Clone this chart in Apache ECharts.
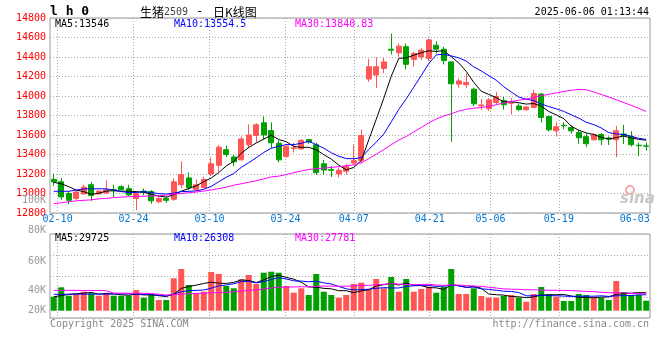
<!DOCTYPE html>
<html><head><meta charset="utf-8">
<script src="https://cdn.jsdelivr.net/npm/echarts@6/dist/echarts.min.js"></script>
<style>html,body{margin:0;padding:0;background:#fff}#c{width:660px;height:360px}</style>
</head><body><div id="c"></div>
<script>
const dates = ["02-07","02-10","02-11","02-12","02-13","02-14","02-17","02-18","02-19","02-20","02-21","02-24","02-25","02-26","02-27","02-28","03-03","03-04","03-05","03-06","03-07","03-10","03-11","03-12","03-13","03-14","03-17","03-18","03-19","03-20","03-21","03-24","03-25","03-26","03-27","03-28","03-31","04-01","04-02","04-03","04-07","04-08","04-09","04-10","04-11","04-14","04-15","04-16","04-17","04-18","04-21","04-22","04-23","04-24","04-25","04-28","04-29","04-30","05-06","05-07","05-08","05-09","05-12","05-13","05-14","05-15","05-16","05-19","05-20","05-21","05-22","05-23","05-26","05-27","05-28","05-29","05-30","06-03","06-04","06-05"];
const tickDates = ["02-10","02-24","03-10","03-24","04-07","04-21","05-06","05-19","06-03"];
const gridDates = ["02-10","02-24","03-10","03-24","04-07","04-21","05-06","05-19"];
const priceTicks = {min:12800, max:14800, step:200};

const opens = [13145,13120,13000,12950,12995,13090,12995,13005,13040,13070,
13050,12950,13025,13020,12915,12950,12940,13090,13160,13040,
13060,13200,13290,13450,13375,13345,13500,13595,13725,13645,
13515,13380,13460,13458,13552,13500,13305,13245,13200,13228,
13313,13340,14175,14215,14283,14480,14443,14505,14375,14400,
14385,14521,14480,14350,14122,14116,14070,13900,13870,13932,
13952,13926,13898,13860,13883,14020,13790,13643,13700,13677,
13626,13582,13551,13605,13569,13551,13610,13585,13495,13488];
const closes = [13120,12965,12930,13015,13065,12980,13025,13040,13030,13040,
12985,13000,13010,12925,12950,12930,13120,13195,13060,13090,
13145,13305,13475,13400,13325,13560,13600,13705,13600,13520,
13345,13485,13468,13545,13528,13215,13240,13238,13238,13280,
13337,13595,14300,14300,14350,14470,14511,14325,14437,14470,
14575,14480,14363,14125,14154,14138,13920,13908,13960,13995,
13910,13932,13860,13888,14026,13780,13653,13684,13695,13643,
13572,13510,13605,13551,13557,13643,13592,13500,13490,13485];
const lows = [13080,12935,12890,12930,12990,12925,12990,12995,12965,13030,
12975,12830,12980,12895,12900,12905,12925,13055,13035,13025,
13055,13180,13225,13375,13280,13340,13465,13525,13550,13465,
13320,13365,13420,13450,13510,13190,13195,13170,13165,13195,
13295,13310,14145,14080,14232,14426,14402,14273,14300,14368,
14358,14437,14324,13530,14085,14082,13895,13858,13847,13916,
13860,13810,13850,13847,13880,13728,13636,13585,13660,13613,
13510,13475,13545,13497,13497,13373,13507,13483,13381,13440];
const highs = [13205,13160,13025,13030,13090,13120,13030,13135,13090,13085,
13090,13020,13050,13035,12970,12965,13155,13330,13215,13145,
13170,13370,13500,13490,13400,13585,13710,13720,13790,13730,
13545,13500,13520,13560,13560,13520,13345,13280,13265,13305,
13500,13655,14380,14395,14392,14640,14539,14539,14453,14488,
14590,14562,14504,14355,14181,14232,14087,13970,13977,14041,
13990,13977,13920,13898,14062,14028,13796,13735,13732,13697,
13653,13615,13620,13618,13585,13694,13704,13640,13523,13523];

const ma5 = [13115,13100,13070,13035,13019,12991,13003,13025,13028,13023,
13024,13019,13013,12992,12974,12963,12987,13024,13051,13079,
13122,13159,13215,13283,13330,13413,13472,13518,13558,13597,
13554,13531,13484,13473,13474,13448,13399,13353,13292,13242,
13267,13338,13550,13762,13976,14203,14386,14391,14419,14443,
14464,14457,14465,14403,14339,14252,14140,14049,14016,13984,
13939,13941,13931,13917,13923,13897,13841,13806,13768,13691,
13649,13621,13605,13576,13559,13573,13590,13569,13556,13546];
const ma10 = [13023,13023,13023,13035,13048,13048,13048,13048,13035,13021,
13008,13011,13019,13010,12999,12994,13003,13019,13022,13027,
13043,13073,13120,13167,13205,13268,13316,13367,13421,13464,
13484,13502,13501,13515,13536,13501,13465,13418,13382,13358,
13357,13368,13452,13527,13609,13735,13862,13971,14091,14210,
14333,14422,14428,14411,14391,14358,14299,14257,14209,14162,
14095,14041,13990,13967,13954,13918,13891,13869,13842,13807,
13773,13731,13706,13672,13625,13611,13605,13587,13566,13554.5];
const ma30 = [12895,12905,12915,12925,12930,12935,12945,12950,12958,12963,
12966,12970,12972,12974,12976,12985,12995,13000,13008,13015,
13025,13036,13050,13065,13085,13100,13115,13130,13150,13170,
13178,13195,13213,13231,13246,13254,13261,13268,13275,13283,
13294,13314,13357,13403,13450,13501,13548,13585,13631,13677,
13725,13764,13794,13818,13845,13865,13875,13882,13894,13910,
13929,13944,13957,13968,13985,14004,14017,14032,14047,14059,
14067,14064,14041,14016,13990,13962,13932,13904,13873,13840.83];

const volumes = [23140,38680,24790,27110,31400,28760,24790,28760,24790,24790,
24790,34210,21490,25950,17690,17690,53550,68930,42480,28760,
31400,63970,60660,40830,37020,51900,59010,44130,62810,64460,
62810,40830,29750,37020,25950,60660,31400,25950,21490,25950,
44130,46280,35370,52400,37020,55700,31400,52400,31400,35870,
39670,29750,39670,68930,27600,27600,37020,24300,21490,21490,
24300,25950,21490,14880,27600,39170,27600,23140,16030,16030,
27600,25950,21490,21490,17690,49090,30910,25950,25950,16530];
const vma5 = [23000,25000,27000,28000,29024,30148,27370,28164,27700,26378,
25584,27468,26014,26246,24826,23406,27274,36762,40068,42282,
45024,47108,45454,45124,46776,50876,49884,46578,50974,56462,
58644,55008,52132,46974,39272,38842,36956,36196,33090,33090,
29784,32760,34644,40826,43040,45354,42378,45784,41584,41354,
38148,37818,35272,42778,41124,38710,40164,37090,27602,26380,
25720,23506,22944,21622,22844,25818,26148,26478,26708,24394,
22080,21750,21420,22512,22844,27142,28134,29026,29918,29725];
const vma10 = [27100,27100,27200,27300,27300,27400,27500,27600,27700,27701,
27866,27419,27089,26973,25602,24495,27371,31388,33157,33554,
34215,37191,41108,42596,44529,47950,48496,46016,48049,51619,
54760,52446,49355,48974,47867,48743,45982,44164,40032,36181,
34313,34858,35420,36958,38065,37569,37569,40214,41205,42197,
41751,40098,40528,42181,41239,38429,38991,36181,35190,33752,
32215,31835,30017,24612,24612,25769,24827,24711,24165,23619,
23949,23949,23949,24610,23619,24611,24942,25223,26215,26308];
const vma30 = [33700,33700,33600,33600,33500,33400,33300,33100,29000,28900,
28800,28800,28700,28500,27000,26000,26500,27500,28000,28500,
29000,29500,30000,30500,31500,32500,33500,34500,36000,37625,
38947,39019,39184,39514,39333,40396,40616,40523,40413,40451,
41096,41498,41961,42843,43487,44754,44016,43465,43095,43332,
43608,42467,41768,42704,42390,41580,40847,40186,38809,37377,
36093,35597,35322,34584,34639,33922,33796,33702,33520,33189,
32638,31961,31498,30468,29823,29603,29587,28705,28523,27781];
const volTickLabels = ["100K","80K","60K","40K","20K"];

const priceHeader = ["MA5:13546","MA10:13554.5","MA30:13840.83"];
const volHeader = ["MA5:29725","MA10:26308","MA30:27781"];
const titleCode = "l h 0";
const titleParts = ["生猪", "2509", "-", "日K线图"];
const stamp = "2025-06-06 01:13:44";

const UP = '#ff5555', DOWN = '#00a000';
const MONO = "'DejaVu Sans Mono', 'Liberation Mono', monospace";
const CJK = "'Noto Sans CJK SC'";
const maColors = ['#000000', '#0000ff', '#ff00ff'];
const dotted = {show:true, lineStyle:{color:'#aaaaaa', type:[1,2], width:1}};
const tickSet = new Set(tickDates), gridSet = new Set(gridDates);

const chart = echarts.init(document.getElementById('c'));

function txt(text, x, y, fill, font, align) {
  return {type:'text', x:x, y:y, silent:true, z:100,
    style:{text:text, fill:fill, font:font, align:align||'left', textAlign:align||'left',
           verticalAlign:'middle', textVerticalAlign:'middle'}};
}
const volLabelY = [200.7, 230.7, 261, 290, 310];
const headerX = [55, 174, 295];
const graphics = [
  txt(titleCode, 50, 12, '#000', "bold 13px " + MONO),
  txt(titleParts[0], 140, 12, '#000', "12px " + CJK),
  txt(titleParts[1], 164, 12.5, '#444', "10px " + MONO),
  txt(titleParts[2], 196, 12, '#000', "12px " + MONO),
  txt(titleParts[3], 213, 12, '#000', "12px " + CJK),
  txt(stamp, 649, 12, '#000', "10px " + MONO, 'right'),
  txt("Copyright 2025 SINA.COM", 50, 324, '#888', "10px " + MONO),
  txt("http://finance.sina.com.cn", 649, 324, '#888', "10px " + MONO, 'right'),
  txt("sina", 620, 199, '#c8c8c8', "italic bold 15px 'DejaVu Sans'"),
  {type:'circle', shape:{cx:630, cy:190, r:4}, silent:true, z:99,
   style:{fill:'none', stroke:'#f4a8a8', lineWidth:2}}
];
priceHeader.forEach((t,i)=>graphics.push(txt(t, headerX[i], 24, maColors[i], "10px " + MONO)));
volHeader.forEach((t,i)=>graphics.push(txt(t, headerX[i], 238.5, maColors[i], "10px " + MONO)));
volTickLabels.forEach((t,i)=>graphics.push(txt(t, 46, volLabelY[i], '#999', "10px " + MONO, 'right')));

function maLine(name, data, color, xi, yi) {
  return {name:name, type:'line', data:data, xAxisIndex:xi, yAxisIndex:yi, symbol:'none',
    lineStyle:{color:color, width:1}, itemStyle:{color:color}, z:5, silent:true};
}

const option = {
  animation:false,
  backgroundColor:'#fff',
  grid:[
    {left:50, top:18, width:600, height:195, show:true, borderColor:'#999', borderWidth:1},
    {left:50, top:234, width:600, height:84, show:true, borderColor:'#999', borderWidth:1}
  ],
  xAxis:[
    {type:'category', gridIndex:0, data:dates, boundaryGap:true, show:false, position:'bottom'},
    {type:'category', gridIndex:0, data:dates, boundaryGap:false, position:'bottom',
     axisLine:{show:false}, axisTick:{show:false},
     axisLabel:{interval:(i,v)=>tickSet.has(v), color:'#0078d7', fontFamily:MONO, fontSize:10, margin:1},
     splitLine:Object.assign({interval:(i,v)=>gridSet.has(v)}, dotted)},
    {type:'category', gridIndex:1, data:dates, boundaryGap:true, show:false, position:'bottom'},
    {type:'category', gridIndex:1, data:dates, boundaryGap:false, position:'bottom',
     axisLine:{show:false}, axisTick:{show:false}, axisLabel:{show:false},
     splitLine:Object.assign({interval:(i,v)=>gridSet.has(v)}, dotted)}
  ],
  yAxis:[
    {type:'value', gridIndex:0, min:priceTicks.min, max:priceTicks.max, interval:priceTicks.step,
     position:'left', axisLine:{show:false}, axisTick:{show:false},
     axisLabel:{color:'#ff0000', fontFamily:MONO, fontSize:10, margin:4, formatter:(v)=>String(v)},
     splitLine:dotted},
    {type:'value', gridIndex:1, min:-12066, max:126777, show:false, position:'left'},
    {type:'value', gridIndex:1, min:0, max:4, interval:1, position:'right',
     axisLine:{show:false}, axisTick:{show:false}, axisLabel:{show:false}, splitLine:dotted}
  ],
  series:[
    {name:'K', type:'candlestick', xAxisIndex:0, yAxisIndex:0, barWidth:5.6, silent:true,
     data:dates.map((d,i)=>[opens[i], closes[i], lows[i], highs[i]]),
     itemStyle:{color:UP, color0:DOWN, borderColor:UP, borderColor0:DOWN, borderWidth:1}},
    maLine('MA5', ma5, maColors[0], 0, 0),
    maLine('MA10', ma10, maColors[1], 0, 0),
    maLine('MA30', ma30, maColors[2], 0, 0),
    {name:'VOL', type:'bar', xAxisIndex:2, yAxisIndex:1, barWidth:6, silent:true,
     data:volumes.map((v,i)=>({value:v, itemStyle:{color: closes[i] > opens[i] ? UP : DOWN}}))},
    maLine('VMA5', vma5, maColors[0], 2, 1),
    maLine('VMA10', vma10, maColors[1], 2, 1),
    maLine('VMA30', vma30, maColors[2], 2, 1)
  ],
  graphic:graphics
};
chart.setOption(option);
</script>
</body></html>
